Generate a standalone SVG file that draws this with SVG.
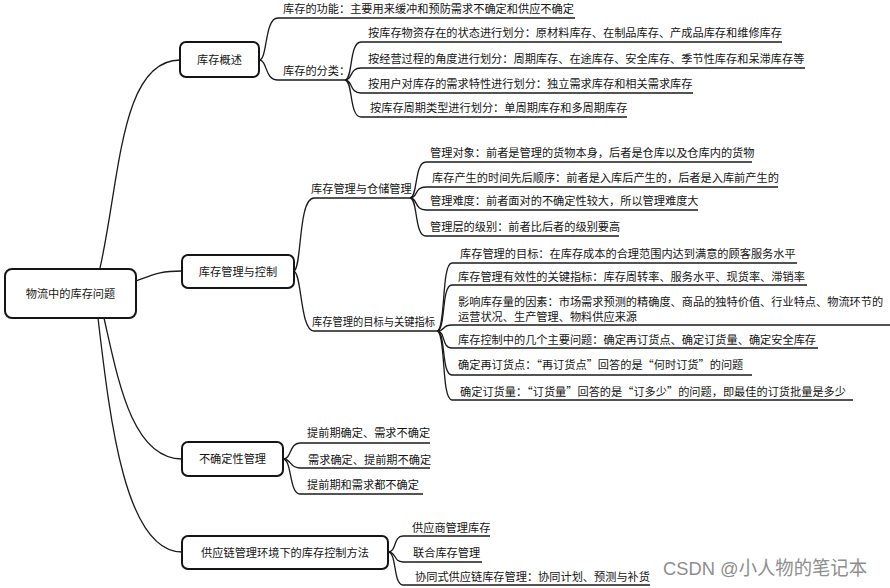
<svg xmlns="http://www.w3.org/2000/svg" width="890" height="588" viewBox="0 0 890 588">
<style>
.t{font-family:"Noto Sans CJK SC","Noto Sans",sans-serif;font-size:11.2px;fill:#141414}
.m{text-anchor:middle}
.box{fill:#fff;stroke:#151515;stroke-width:2}
.ul{stroke:#1a1a1a;stroke-width:1.4}
.conn path{fill:none;stroke:#1a1a1a;stroke-width:1.3}
.wm{font-family:"Liberation Sans","Noto Sans CJK SC",sans-serif;font-size:19px;fill:#8e8e8e}
</style>
<rect width="890" height="588" fill="#fff"/>
<g class="conn" id="connectors">
<path d="M100,268 C120,180 120,60 180,60"/>
<path d="M136,281 C155,274 160,271 182,271"/>
<path d="M104,318 C118,380 132,459 182,459"/>
<path d="M98,318 C110,420 125,552 182,552"/>
<path d="M259,60 C268,60 264,18 278,18"/>
<path d="M259,60 C268,60 264,80 278,80"/>
<path d="M345,80 C353,80 349,42 361,42"/>
<path d="M345,80 C353,80 349,68 361,68"/>
<path d="M345,80 C353,80 349,93 361,93"/>
<path d="M345,80 C353,80 349,117 361,117"/>
<path d="M294,271 C302,268 298,198 314,198"/>
<path d="M294,271 C302,274 300,331 314,331"/>
<path d="M410,198 C418,198 414,162 426,162"/>
<path d="M410,198 C418,198 414,187 426,187"/>
<path d="M410,198 C418,198 414,210 426,210"/>
<path d="M410,198 C418,198 414,236 426,236"/>
<path d="M437,331 C446,331 441,263 452,263"/>
<path d="M437,331 C446,331 441,285 452,285"/>
<path d="M437,331 C446,331 441,325 452,325"/>
<path d="M437,331 C446,331 441,348 452,348"/>
<path d="M437,331 C446,331 441,375 452,375"/>
<path d="M437,331 C446,331 441,400 452,400"/>
<path d="M283,459 C292,459 289,443 300,443"/>
<path d="M283,459 C292,459 289,468 300,468"/>
<path d="M283,459 C292,459 289,494 300,494"/>
<path d="M388,552 C397,552 393,536 403,536"/>
<path d="M388,552 C397,552 393,562 403,562"/>
<path d="M388,552 C397,552 393,585 403,585"/>
</g>
<g id="root"><rect class="box" x="5" y="269" width="131" height="49" rx="7"/><text class="t m" x="70.5" y="297.5">物流中的库存问题</text></g>
<g id="n1"><rect class="box" x="180" y="42" width="79" height="35" rx="6"/><text class="t m" x="219.5" y="63.5">库存概述</text></g>
<g id="n2"><rect class="box" x="182" y="255" width="112" height="33" rx="6"/><text class="t m" x="238" y="275.5">库存管理与控制</text></g>
<g id="n3"><rect class="box" x="182" y="442" width="101" height="34" rx="6"/><text class="t m" x="232.5" y="463">不确定性管理</text></g>
<g id="n4"><rect class="box" x="182" y="536" width="206" height="33" rx="6"/><text class="t m" x="285" y="556.5">供应链管理环境下的库存控制方法</text></g>

<g id="n1a"><line class="ul" x1="278" y1="18" x2="575" y2="18"/><text class="t" x="283" y="13">库存的功能：主要用来缓冲和预防需求不确定和供应不确定</text></g>
<g id="n1b"><line class="ul" x1="278" y1="80" x2="346" y2="80"/><text class="t" x="283" y="75">库存的分类：</text></g>
<g id="n1b1"><line class="ul" x1="361" y1="42" x2="782" y2="42"/><text class="t" x="368" y="37">按库存物资存在的状态进行划分：原材料库存、在制品库存、产成品库存和维修库存</text></g>
<g id="n1b2"><line class="ul" x1="361" y1="68" x2="805" y2="68"/><text class="t" x="368" y="63">按经营过程的角度进行划分：周期库存、在途库存、安全库存、季节性库存和呆滞库存等</text></g>
<g id="n1b3"><line class="ul" x1="361" y1="93" x2="693" y2="93"/><text class="t" x="368" y="88">按用户对库存的需求特性进行划分：独立需求库存和相关需求库存</text></g>
<g id="n1b4"><line class="ul" x1="361" y1="117" x2="627" y2="117"/><text class="t" x="370" y="112">按库存周期类型进行划分：单周期库存和多周期库存</text></g>

<g id="n2a"><line class="ul" x1="314" y1="198" x2="410" y2="198"/><text class="t" x="311" y="193">库存管理与仓储管理</text></g>
<g id="n2a1"><line class="ul" x1="426" y1="162" x2="752" y2="162"/><text class="t" x="430" y="157">管理对象：前者是管理的货物本身，后者是仓库以及仓库内的货物</text></g>
<g id="n2a2"><line class="ul" x1="426" y1="187" x2="778" y2="187"/><text class="t" x="432" y="182">库存产生的时间先后顺序：前者是入库后产生的，后者是入库前产生的</text></g>
<g id="n2a3"><line class="ul" x1="426" y1="210" x2="698" y2="210"/><text class="t" x="430" y="205">管理难度：前者面对的不确定性较大，所以管理难度大</text></g>
<g id="n2a4"><line class="ul" x1="426" y1="236" x2="619" y2="236"/><text class="t" x="430" y="231">管理层的级别：前者比后者的级别要高</text></g>

<g id="n2b"><line class="ul" x1="314" y1="331" x2="437" y2="331"/><text class="t" x="312" y="326" textLength="123" lengthAdjust="spacingAndGlyphs">库存管理的目标与关键指标</text></g>
<g id="n2b1"><line class="ul" x1="452" y1="263" x2="797" y2="263"/><text class="t" x="460" y="258">库存管理的目标：在库存成本的合理范围内达到满意的顾客服务水平</text></g>
<g id="n2b2"><line class="ul" x1="452" y1="285" x2="807" y2="285"/><text class="t" x="458" y="281">库存管理有效性的关键指标：库存周转率、服务水平、现货率、滞销率</text></g>
<g id="n2b3"><line class="ul" x1="452" y1="325" x2="890" y2="325"/><text class="t" x="458" y="306">影响库存量的因素：市场需求预测的精确度、商品的独特价值、行业特点、物流环节的</text><text class="t" x="458" y="321">运营状况、生产管理、物料供应来源</text></g>
<g id="n2b4"><line class="ul" x1="452" y1="348" x2="818" y2="348"/><text class="t" x="458" y="344">库存控制中的几个主要问题：确定再订货点、确定订货量、确定安全库存</text></g>
<g id="n2b5"><line class="ul" x1="452" y1="375" x2="752" y2="375"/><text class="t" x="458" y="369">确定再订货点：“再订货点”回答的是“何时订货”的问题</text></g>
<g id="n2b6"><line class="ul" x1="452" y1="400" x2="853" y2="400"/><text class="t" x="460" y="396">确定订货量：“订货量”回答的是“订多少”的问题，即最佳的订货批量是多少</text></g>

<g id="n3a"><line class="ul" x1="300" y1="443" x2="430" y2="443"/><text class="t" x="307" y="437">提前期确定、需求不确定</text></g>
<g id="n3b"><line class="ul" x1="300" y1="468" x2="430" y2="468"/><text class="t" x="308" y="464">需求确定、提前期不确定</text></g>
<g id="n3c"><line class="ul" x1="300" y1="494" x2="423" y2="494"/><text class="t" x="307" y="489">提前期和需求都不确定</text></g>

<g id="n4a"><line class="ul" x1="403" y1="536" x2="490" y2="536"/><text class="t" x="412" y="532">供应商管理库存</text></g>
<g id="n4b"><line class="ul" x1="403" y1="562" x2="482" y2="562"/><text class="t" x="413" y="557">联合库存管理</text></g>
<g id="n4c"><line class="ul" x1="403" y1="585" x2="650" y2="585"/><text class="t" x="415" y="581">协同式供应链库存管理：协同计划、预测与补货</text></g>

<text class="wm" x="663" y="575" textLength="204" lengthAdjust="spacingAndGlyphs">CSDN @小人物的笔记本</text>
</svg>
